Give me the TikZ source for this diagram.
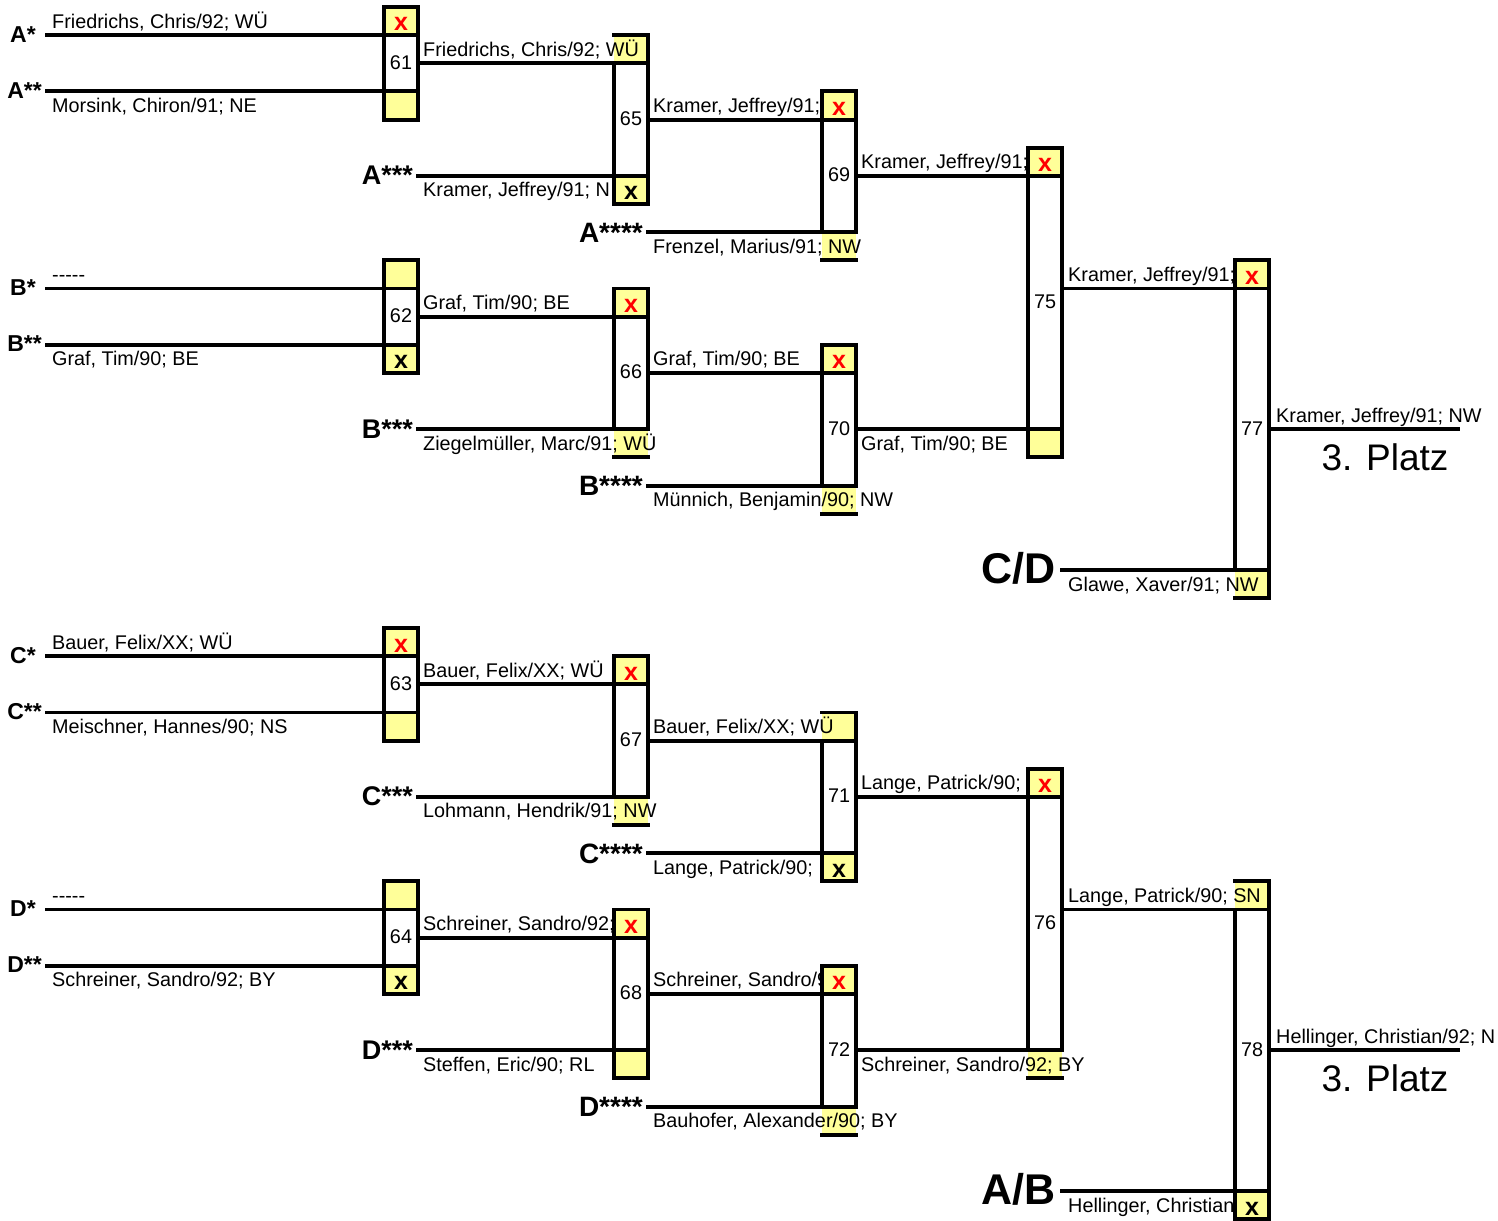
\documentclass[tikz,border=0pt]{standalone}
\usepackage{fontspec}
\setmainfont{Liberation Sans}
\definecolor{cellyellow}{RGB}{255,255,153}
\newcommand\cell[3]{\fill[cellyellow] (#1,{R(#2)}) rectangle (#1+34,{R(#3)});}
\newcommand\hl[3]{\draw[bline] (#1,{R(#3)}) -- (#2,{R(#3)});}
% box: xl, ktop, kbot, left start, left end, right end
\newcommand\bx[6]{%
  \draw[bline] (#1,{R(#2)}) -- (#1+34,{R(#2)});
  \draw[bline] (#1,{R(#3)}) -- (#1+34,{R(#3)});
  \draw[bline] (#1,{R(#4)}) -- (#1,{R(#5)});
  \draw[bline] (#1+34,{R(#2)}) -- (#1+34,{R(#6)});}
\newcommand\halflines{%
  \hl{47}{418}{1}\hl{47}{418}{3}\hl{418}{648}{2}\hl{418}{648}{6}
  \hl{648}{856}{4}\hl{648}{856}{8}\hl{856}{1062}{6}
  \hl{47}{418}{10}\hl{47}{418}{12}\hl{418}{648}{11}\hl{418}{648}{15}
  \hl{648}{856}{13}\hl{648}{856}{17}\hl{856}{1062}{15}
  \hl{1062}{1269}{10}\hl{1062}{1269}{20}\hl{1269}{1458}{15}}
\newcommand\dashes{-\kern0pt-\kern0pt-\kern0pt-\kern0pt-}
\begin{document}
\begin{tikzpicture}[x=1pt,y=-1pt,
  declare function={R(\k)=7+28.15*\k;},
  bline/.style={line width=3.9pt,line cap=rect},
  nm/.style={font=\fontsize{19.8}{23}\selectfont,inner sep=0pt,anchor=base west},
  num/.style={font=\fontsize{19.8}{23}\selectfont,inner sep=0pt,anchor=base},
  mk/.style={font=\bfseries\fontsize{25}{28}\selectfont,inner sep=0pt,anchor=base},
  rx/.style={mk,text=red},
  lbA/.style={font=\bfseries\fontsize{23}{26}\selectfont,inner sep=0pt,anchor=base east},
  lbB/.style={font=\bfseries\fontsize{27}{30}\selectfont,inner sep=0pt,anchor=base east},
  lbC/.style={font=\bfseries\fontsize{28}{31}\selectfont,inner sep=0pt,anchor=base east},
  lbD/.style={font=\bfseries\fontsize{43}{46}\selectfont,inner sep=0pt,anchor=base east},
  plz/.style={font=\fontsize{37}{40}\selectfont,inner sep=0pt,anchor=base}]
\useasboundingbox (0,0) rectangle (1498,1220);

% ===================== upper half =====================
\begin{scope}
% open cells (text runs over them)
\cell{614}{1}{2}\cell{822}{8}{9}\cell{614}{15}{16}\cell{822}{17}{18}\cell{1235}{20}{21}
% names
\node[nm] (a1) at (52,{R(1)-7}) {Friedrichs, Chris/92; WÜ};
\node[nm] (a2) at (52,{R(3)+21}) {Morsink, Chiron/91; NE};
\node[nm] (a3) at (52,{R(10)-7}) {\dashes};
\node[nm] (a4) at (52,{R(12)+21}) {Graf, Tim/90; BE};
\node[nm] (a5) at (423,{R(2)-7}) {Friedrichs, Chris/92; WÜ};
\node[nm] (a6) at (423,{R(6)+21}) {Kramer, Jeffrey/91; N};
\node[nm] (a7) at (423,{R(11)-7}) {Graf, Tim/90; BE};
\node[nm] (a8) at (423,{R(15)+21}) {Ziegelmüller, Marc/91; WÜ};
\node[nm] (a9) at (653,{R(4)-7}) {Kramer, Jeffrey/91;};
\node[nm] (a10) at (653,{R(8)+21}) {Frenzel, Marius/91; NW};
\node[nm] (a11) at (653,{R(13)-7}) {Graf, Tim/90; BE};
\node[nm] (a12) at (653,{R(17)+21}) {Münnich, Benjamin/90; NW};
\node[nm] (a13) at (861,{R(6)-7}) {Kramer, Jeffrey/91;};
\node[nm] (a14) at (861,{R(15)+21}) {Graf, Tim/90; BE};
\node[nm] (a15) at (1068,{R(10)-7}) {Kramer, Jeffrey/91;};
\node[nm] (a16) at (1068,{R(20)+21}) {Glawe, Xaver/91; NW};
\node[nm] (a17) at (1276,{R(15)-7}) {Kramer, Jeffrey/91; NW};
\node[plz] (a18) at (1385,{R(15)+41}) {3. Platz};
% seed labels
\node[lbA] (la1) at (36,{R(1)+7}) {A*};
\node[lbA] (la2) at (42,{R(3)+7}) {A**};
\node[lbB] (la3) at (413,{R(6)+9}) {A***};
\node[lbC] (la4) at (643,{R(8)+10}) {A****};
\node[lbA] (lb1) at (36,{R(10)+7}) {B*};
\node[lbA] (lb2) at (42,{R(12)+7}) {B**};
\node[lbB] (lb3) at (413,{R(15)+9}) {B***};
\node[lbC] (lb4) at (643,{R(17)+10}) {B****};
\node[lbD] (lcd) at (1056,{R(20)+13}) {C/D};
% closed cells
\cell{384}{0}{1}\node[rx] (x61) at (401,{R(0)+24}) {x};
\cell{384}{3}{4}
\cell{614}{6}{7}\node[mk] (x65) at (631,{R(6)+24}) {x};
\cell{822}{3}{4}\node[rx] (x69) at (839,{R(3)+24}) {x};
\cell{1028}{5}{6}\node[rx] (x75) at (1045,{R(5)+24}) {x};
\cell{1028}{15}{16}
\cell{384}{9}{10}
\cell{384}{12}{13}\node[mk] (x62) at (401,{R(12)+24}) {x};
\cell{614}{10}{11}\node[rx] (x66) at (631,{R(10)+24}) {x};
\cell{822}{12}{13}\node[rx] (x70) at (839,{R(12)+24}) {x};
\cell{1235}{9}{10}\node[rx] (x77) at (1252,{R(9)+24}) {x};
% match numbers
\node[num] (m61) at (401,{R(2)+6}) {61};
\node[num] (m65) at (631,{R(4)+6}) {65};
\node[num] (m69) at (839,{R(6)+6}) {69};
\node[num] (m75) at (1045,{R(10.5)+6}) {75};
\node[num] (m62) at (401,{R(11)+6}) {62};
\node[num] (m66) at (631,{R(13)+6}) {66};
\node[num] (m70) at (839,{R(15)+6}) {70};
\node[num] (m77) at (1252,{R(15)+6}) {77};
% lines
\halflines
\bx{384}{0}{4}{0}{4}{4}
\bx{614}{1}{7}{2}{7}{7}
\bx{822}{3}{9}{3}{8}{8}
\bx{1028}{5}{16}{5}{16}{16}
\bx{384}{9}{13}{9}{13}{13}
\bx{614}{10}{16}{10}{15}{15}
\bx{822}{12}{18}{12}{17}{17}
\bx{1235}{9}{21}{9}{20}{21}
\end{scope}

% ===================== lower half =====================
\begin{scope}[yshift=-621pt]
\cell{614}{6}{7}\cell{822}{3}{4}\cell{1028}{15}{16}\cell{822}{17}{18}\cell{1235}{9}{10}
\node[nm] (b1) at (52,{R(1)-7}) {Bauer, Felix/XX; WÜ};
\node[nm] (b2) at (52,{R(3)+21}) {Meischner, Hannes/90; NS};
\node[nm] (b3) at (52,{R(10)-7}) {\dashes};
\node[nm] (b4) at (52,{R(12)+21}) {Schreiner, Sandro/92; BY};
\node[nm] (b5) at (423,{R(2)-7}) {Bauer, Felix/XX; WÜ};
\node[nm] (b6) at (423,{R(6)+21}) {Lohmann, Hendrik/91; NW};
\node[nm] (b7) at (423,{R(11)-7}) {Schreiner, Sandro/92;};
\node[nm] (b8) at (423,{R(15)+21}) {Steffen, Eric/90; RL};
\node[nm] (b9) at (653,{R(4)-7}) {Bauer, Felix/XX; WÜ};
\node[nm] (b10) at (653,{R(8)+21}) {Lange, Patrick/90;};
\node[nm] (b11) at (653,{R(13)-7}) {Schreiner, Sandro/9};
\node[nm] (b12) at (653,{R(17)+21}) {Bauhofer, Alexander/90; BY};
\node[nm] (b13) at (861,{R(6)-7}) {Lange, Patrick/90;};
\node[nm] (b14) at (861,{R(15)+21}) {Schreiner, Sandro/92; BY};
\node[nm] (b15) at (1068,{R(10)-7}) {Lange, Patrick/90; SN};
\node[nm] (b16) at (1068,{R(20)+21}) {Hellinger, Christian};
\node[nm] (b17) at (1276,{R(15)-7}) {Hellinger, Christian/92; N};
\node[plz] (b18) at (1385,{R(15)+41}) {3. Platz};
\node[lbA] (lc1) at (36,{R(1)+7}) {C*};
\node[lbA] (lc2) at (42,{R(3)+7}) {C**};
\node[lbB] (lc3) at (413,{R(6)+9}) {C***};
\node[lbC] (lc4) at (643,{R(8)+10}) {C****};
\node[lbA] (ld1) at (36,{R(10)+7}) {D*};
\node[lbA] (ld2) at (42,{R(12)+7}) {D**};
\node[lbB] (ld3) at (413,{R(15)+9}) {D***};
\node[lbC] (ld4) at (643,{R(17)+10}) {D****};
\node[lbD] (lab) at (1056,{R(20)+13}) {A/B};
\cell{384}{0}{1}\node[rx] (x63) at (401,{R(0)+24}) {x};
\cell{384}{3}{4}
\cell{614}{1}{2}\node[rx] (x67) at (631,{R(1)+24}) {x};
\cell{822}{8}{9}\node[mk] (x71) at (839,{R(8)+24}) {x};
\cell{1028}{5}{6}\node[rx] (x76) at (1045,{R(5)+24}) {x};
\cell{384}{9}{10}
\cell{384}{12}{13}\node[mk] (x64) at (401,{R(12)+24}) {x};
\cell{614}{10}{11}\node[rx] (x68) at (631,{R(10)+24}) {x};
\cell{614}{15}{16}
\cell{822}{12}{13}\node[rx] (x72) at (839,{R(12)+24}) {x};
\cell{1235}{20}{21}\node[mk] (x78) at (1252,{R(20)+24}) {x};
\node[num] (m63) at (401,{R(2)+6}) {63};
\node[num] (m67) at (631,{R(4)+6}) {67};
\node[num] (m71) at (839,{R(6)+6}) {71};
\node[num] (m76) at (1045,{R(10.5)+6}) {76};
\node[num] (m64) at (401,{R(11)+6}) {64};
\node[num] (m68) at (631,{R(13)+6}) {68};
\node[num] (m72) at (839,{R(15)+6}) {72};
\node[num] (m78) at (1252,{R(15)+6}) {78};
\halflines
\bx{384}{0}{4}{0}{4}{4}
\bx{614}{1}{7}{1}{6}{6}
\bx{822}{3}{9}{4}{9}{9}
\bx{1028}{5}{16}{5}{15}{15}
\bx{384}{9}{13}{9}{13}{13}
\bx{614}{10}{16}{10}{16}{16}
\bx{822}{12}{18}{12}{17}{17}
\bx{1235}{9}{21}{10}{21}{21}
\end{scope}
\end{tikzpicture}
\end{document}
